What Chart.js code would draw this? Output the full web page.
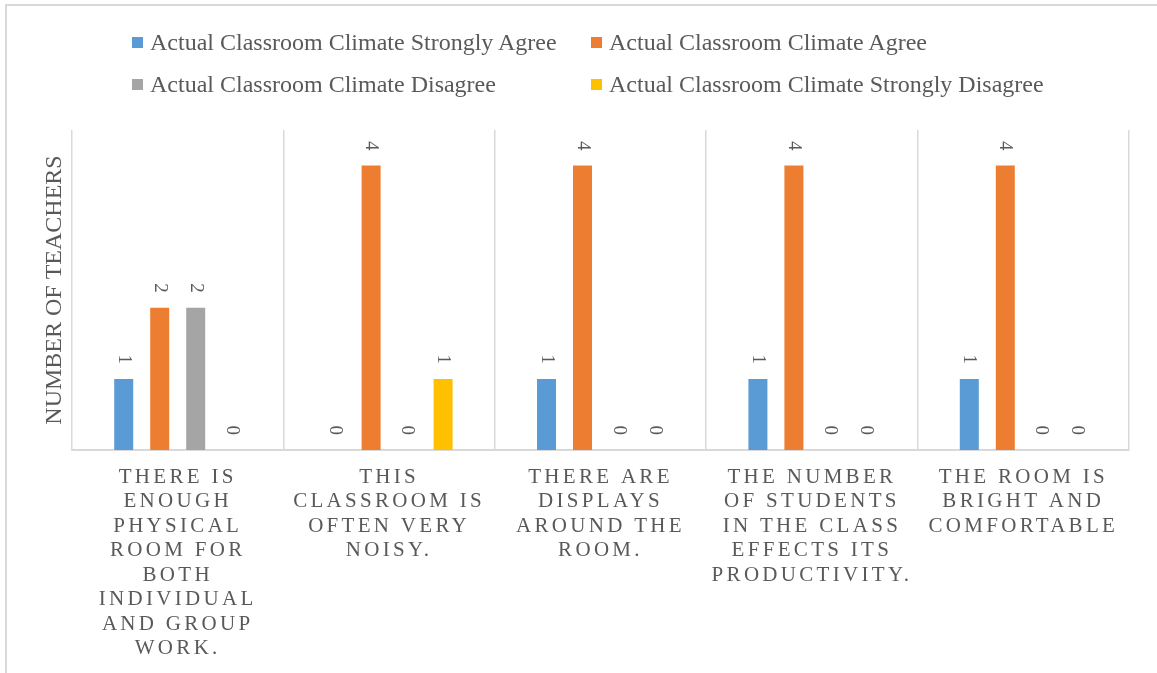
<!DOCTYPE html>
<html>
<head>
<meta charset="utf-8">
<title>Actual Classroom Climate</title>
<script src="https://cdn.jsdelivr.net/npm/chart.js@4.4.1/dist/chart.umd.min.js"></script>
<style>
  html, body { margin: 0; padding: 0; background: #fff; overflow: hidden; }
  #wrap { position: relative; width: 1157px; height: 673px; overflow: hidden;
          font-family: "Liberation Serif", "Times New Roman", serif; color: #595959; }
  #frame { position: absolute; left: 5px; top: 4px; width: 1200px; height: 700px; border: 2px solid #d9d9d9; }
  #chart { position: absolute; left: 0; top: 0; }
  #legend { position: absolute; left: 132px; top: 21px; display: grid;
            grid-template-columns: 459px auto; grid-auto-rows: 42px; }
  .item { display: flex; align-items: center; font-size: 24px; white-space: nowrap; }
  .item span { display: inline-block; width: 11px; height: 11px; margin-right: 7px; }
</style>
</head>
<body>
<div id="wrap">
  <div id="frame"></div>
  <canvas id="chart" width="1157" height="673"></canvas>
  <div id="legend"></div>
</div>
<script>
const categories = [
  'THERE IS ENOUGH PHYSICAL ROOM FOR BOTH INDIVIDUAL AND GROUP WORK.',
  'THIS CLASSROOM IS OFTEN VERY NOISY.',
  'THERE ARE DISPLAYS AROUND THE ROOM.',
  'THE NUMBER OF STUDENTS IN THE CLASS EFFECTS ITS PRODUCTIVITY.',
  'THE ROOM IS BRIGHT AND COMFORTABLE'
];
const seriesNames = [
  'Actual Classroom Climate Strongly Agree',
  'Actual Classroom Climate Agree',
  'Actual Classroom Climate Disagree',
  'Actual Classroom Climate Strongly Disagree'
];
const stronglyAgree = [1, 0, 1, 1, 1];
const agree = [2, 4, 4, 4, 4];
const disagree = [2, 0, 0, 0, 0];
const stronglyDisagree = [0, 1, 0, 0, 0];
const seriesColors = ['#5b9bd5', '#ed7d31', '#a5a5a5', '#ffc000'];

const textColor = '#595959';
const gridColor = '#d9d9d9';
const serif = '"Liberation Serif", "Times New Roman", serif';

// break the category text into short lines, like the axis does
function wrap(text, max) {
  const lines = [];
  let line = '';
  text.split(' ').forEach(w => {
    if (line && (line + ' ' + w).length > max) {
      lines.push(line);
      line = w;
    } else {
      line = line ? line + ' ' + w : w;
    }
  });
  if (line) lines.push(line);
  return lines;
}

// rotated value labels above each bar, then letter spacing for the x labels
const valueLabels = {
  id: 'valueLabels',
  beforeDraw(chart) {
    chart.ctx.letterSpacing = '0px';
  },
  afterDatasetsDraw(chart) {
    const ctx = chart.ctx;
    ctx.save();
    ctx.font = '19px ' + serif;
    ctx.fillStyle = textColor;
    ctx.textAlign = 'right';
    ctx.textBaseline = 'middle';
    chart.data.datasets.forEach((ds, i) => {
      chart.getDatasetMeta(i).data.forEach((bar, j) => {
        ctx.save();
        ctx.translate(bar.x, bar.y - 15);
        ctx.rotate(Math.PI / 2);
        ctx.fillText(String(ds.data[j]), 0, 0);
        ctx.restore();
      });
    });
    ctx.restore();
    ctx.letterSpacing = '3.3px';
  },
  afterDraw(chart) {
    chart.ctx.letterSpacing = '0px';
  }
};

const datasets = [stronglyAgree, agree, disagree, stronglyDisagree].map((values, i) => ({
  label: seriesNames[i],
  data: values,
  backgroundColor: seriesColors[i],
  borderWidth: 0,
  categoryPercentage: 0.681,
  barPercentage: 0.528
}));

const chart = new Chart(document.getElementById('chart'), {
  type: 'bar',
  data: {
    labels: categories.map(c => wrap(c, 12)),
    datasets: datasets
  },
  options: {
    responsive: false,
    animation: false,
    layout: { padding: { left: 39.6, right: 28, top: 130, bottom: 0 } },
    plugins: {
      legend: { display: false },
      tooltip: { enabled: false }
    },
    scales: {
      x: {
        grid: { color: gridColor, lineWidth: 1.5, drawTicks: false },
        border: { color: gridColor, width: 2 },
        ticks: {
          z: 1,
          color: textColor,
          padding: 15,
          maxRotation: 0,
          autoSkip: false,
          font: { family: serif, size: 21, lineHeight: 1.1667 }
        },
        afterFit(scale) { scale.height = 223; }
      },
      y: {
        min: 0,
        max: 4.5,
        grid: { display: false },
        border: { display: false },
        ticks: { display: false },
        title: {
          display: true,
          text: 'NUMBER OF TEACHERS',
          color: textColor,
          font: { family: serif, size: 24 },
          padding: { top: 1, bottom: 2.6 }
        },
        afterFit(scale) { scale.width = 32.4; }
      }
    }
  },
  plugins: [valueLabels]
});

const legend = document.getElementById('legend');
// order in the grid: row 1 = series 1, 2; row 2 = series 3, 4
chart.data.datasets.forEach(ds => {
  const item = document.createElement('div');
  item.className = 'item';
  const box = document.createElement('span');
  box.style.background = ds.backgroundColor;
  item.appendChild(box);
  item.appendChild(document.createTextNode(ds.label));
  legend.appendChild(item);
});
</script>
</body>
</html>
